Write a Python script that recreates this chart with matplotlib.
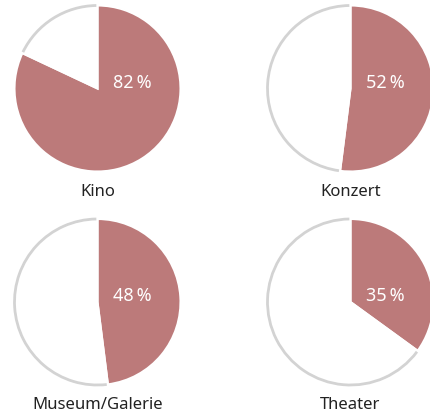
import matplotlib.pyplot as plt
from matplotlib.patches import Arc

labels = ['Kino', 'Konzert', 'Museum/Galerie', 'Theater']
werte = [82, 52, 48, 35]

farbe = '#bc7a7a'
grau = '#d3d3d3'

plt.rcParams['font.family'] = ['Noto Sans', 'DejaVu Sans']

W, H = 431, 415
fig = plt.figure(figsize=(W / 100, H / 100), dpi=100)

# pie centres in pixels (from top-left), radius in pixels
zentren = [(97.5, 88.5), (350.5, 88.5), (97.5, 302), (350.5, 302)]
R = 83

for (cx, cy), label, wert in zip(zentren, labels, werte):
    ax = fig.add_axes([(cx - R) / W, 1 - (cy + R) / H, 2 * R / W, 2 * R / H])
    wedges, _ = ax.pie([wert, 100 - wert], colors=[farbe, 'white'],
                       startangle=90, counterclock=False,
                       wedgeprops=dict(edgecolor='white', linewidth=1.5))
    for w in wedges:
        w.set_clip_on(False)
    # grey outline only on the outer edge of the remainder
    ende = 90 - 360 * wert / 100 + 360
    bogen = Arc((0, 0), 2, 2, theta1=90 + 0.8, theta2=ende - 0.8,
                color=grau, linewidth=2.0, clip_on=False)
    ax.add_patch(bogen)
    ax.set_xlim(-1, 1)
    ax.set_ylim(-1, 1)
    ax.set_aspect('equal')
    ax.axis('off')
    ax.text(0.42, 0.07, f'{wert}\u2009%', color='white', fontsize=13,
            ha='center', va='center')
    fig.text(cx / W, 1 - (cy + R + 20) / H, label, ha='center', va='center',
             fontsize=12, color='#222222')

plt.savefig('out.png', dpi=100)
